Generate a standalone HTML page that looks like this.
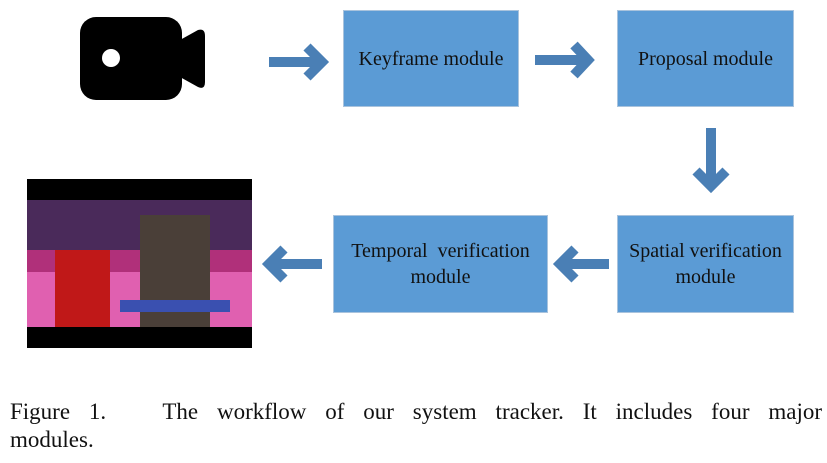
<!DOCTYPE html>
<html><head><meta charset="utf-8"><style>
html,body{margin:0;padding:0;background:#fff;}
body{width:827px;height:463px;position:relative;overflow:hidden;font-family:"Liberation Serif","DejaVu Serif",serif;}
.box{position:absolute;background:#5b9bd5;border:1px solid #a9c3dd;box-sizing:border-box;display:flex;align-items:center;justify-content:center;text-align:center;font-family:"Liberation Serif","DejaVu Serif",serif;font-size:20px;line-height:26px;color:#111;}
.cap{position:absolute;left:10px;width:812px;font-family:"Liberation Serif","DejaVu Serif",serif;font-size:23px;line-height:28px;text-align:justify;color:#111;}
</style></head><body>
<svg width="827" height="463" style="position:absolute;left:0;top:0">
<g fill="#000">
<rect x="80" y="17" width="102" height="83" rx="16"/>
<path d="M180 40 L198 30 Q205 28 205 36 L205 82 Q205 90 198 87 L180 77 Z"/>
</g>
<circle cx="111" cy="58" r="9" fill="#fff"/>
<g stroke="#4a7fb5" stroke-width="10" fill="none">
<line x1="269" y1="62" x2="322" y2="62"/><polyline points="307,47 322,62 307,77"/>
<line x1="535" y1="60" x2="588" y2="60"/><polyline points="574,45 588,60 574,75"/>
<line x1="711" y1="128" x2="711" y2="184"/><polyline points="696,171 711,186 726,171"/>
<line x1="609" y1="264" x2="560" y2="264"/><polyline points="575,249 560,264 575,279"/>
<line x1="322" y1="264" x2="269" y2="264"/><polyline points="284,249 269,264 284,279"/>
</g>
<rect x="27" y="179" width="225" height="169" fill="#000"/>
<rect x="27" y="200" width="225" height="127" fill="#b0307a"/>
<rect x="27" y="200" width="225" height="50" fill="#4a2a5a"/>
<rect x="27" y="272" width="225" height="55" fill="#e060b0"/>
<rect x="55" y="250" width="55" height="77" fill="#c01818"/>
<rect x="140" y="215" width="70" height="112" fill="#4a3f38"/>
<rect x="120" y="300" width="110" height="12" fill="#3a50b0"/>
</svg>
<div class="box" style="left:343px;top:10px;width:176px;height:97px;">Keyframe module</div>
<div class="box" style="left:617px;top:10px;width:177px;height:97px;">Proposal module</div>
<div class="box" style="left:617px;top:215px;width:177px;height:98px;">Spatial verification<br>module</div>
<div class="box" style="left:333px;top:215px;width:215px;height:98px;">Temporal&nbsp; verification<br>module</div>
<div class="cap" style="top:398px;text-align-last:justify;">Figure 1.&nbsp;&nbsp; The workflow of our system tracker. It includes four major</div>
<div class="cap" style="top:426px;">modules.</div>
</body></html>
